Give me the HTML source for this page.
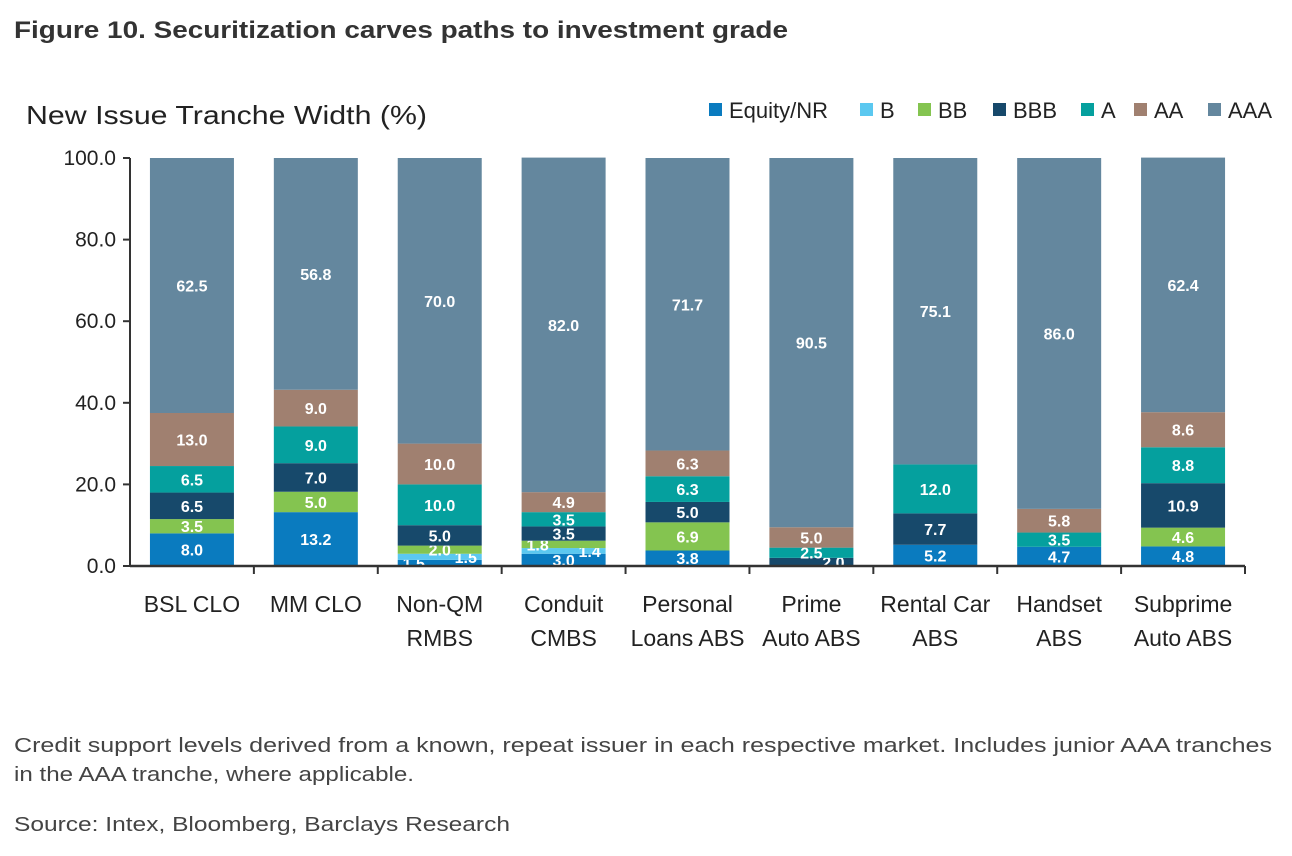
<!DOCTYPE html>
<html><head><meta charset="utf-8"><style>
body{margin:0;background:#fff;font-family:"Liberation Sans",sans-serif;}
</style></head><body>
<svg width="1292" height="851" xmlns="http://www.w3.org/2000/svg" font-family="Liberation Sans, sans-serif">
<text x="14" y="38" font-size="24" font-weight="bold" fill="#333" textLength="774" lengthAdjust="spacingAndGlyphs">Figure 10. Securitization carves paths to investment grade</text>
<text x="26" y="124" font-size="26" fill="#222" textLength="401" lengthAdjust="spacingAndGlyphs">New Issue Tranche Width (%)</text>
<g id="legend"></g>
<g id="plot"></g>
<text x="14" y="752" font-size="20" fill="#444" textLength="1258" lengthAdjust="spacingAndGlyphs">Credit support levels derived from a known, repeat issuer in each respective market. Includes junior AAA tranches</text>
<text x="14" y="781" font-size="20" fill="#444" textLength="400" lengthAdjust="spacingAndGlyphs">in the AAA tranche, where applicable.</text>
<text x="14" y="831" font-size="20" fill="#444" textLength="496" lengthAdjust="spacingAndGlyphs">Source: Intex, Bloomberg, Barclays Research</text>
</svg>
<script>
const categories=[["BSL CLO"],["MM CLO"],["Non-QM","RMBS"],["Conduit","CMBS"],["Personal","Loans ABS"],["Prime","Auto ABS"],["Rental Car","ABS"],["Handset","ABS"],["Subprime","Auto ABS"]];
const seriesNames=["Equity/NR","B","BB","BBB","A","AA","AAA"];
const equity=[8.0,13.2,1.5,3.0,3.8,0,5.2,4.7,4.8];
const bRating=[0,0,1.5,1.4,0,0,0,0,0];
const bb=[3.5,5.0,2.0,1.8,6.9,0,0,0,4.6];
const bbb=[6.5,7.0,5.0,3.5,5.0,2.0,7.7,0,10.9];
const aRating=[6.5,9.0,10.0,3.5,6.3,2.5,12.0,3.5,8.8];
const aa=[13.0,9.0,10.0,4.9,6.3,5.0,0,5.8,8.6];
const aaa=[62.5,56.8,70.0,82.0,71.7,90.5,75.1,86.0,62.4];
const yTicks=[0,20,40,60,80,100];
const colors=["#0a7bbf","#5bc8f0","#84c450","#17496b","#05a09e","#a08070","#64879e"];
const series=[equity,bRating,bb,bbb,aRating,aa,aaa];
const labelShift={"2-0":-26,"2-1":26,"3-1":26,"3-2":-26,"5-3":22};
const NS="http://www.w3.org/2000/svg";
const x0=130,x1=1245,y0=566,y1=158;
const bw=(x1-x0)/categories.length;
const ys=v=>y0-(v/100)*(y0-y1);
const xc=i=>x0+bw*(i+0.5);
function mk(tag,attrs,parent){const e=document.createElementNS(NS,tag);for(const k in attrs)e.setAttribute(k,attrs[k]);parent.appendChild(e);return e;}
const plot=document.getElementById('plot');
yTicks.forEach(t=>{
 const tx=mk('text',{x:x0-14,y:ys(t)+7,'text-anchor':'end','font-size':21,fill:'#222'},plot);
 
 
 tx.textContent=t.toFixed(1);
 const tk=mk('line',{x1:x0-7,x2:x0,y1:ys(t),y2:ys(t),stroke:'#333','stroke-width':2},plot);
 
 
});
categories.forEach((c,i)=>{
 let cum=0;
 series.forEach((s,k)=>{
  const v=s[i]; if(!v){return;}
  const r=mk('rect',{x:xc(i)-42,y:ys(cum+v),width:84,height:ys(cum)-ys(cum+v),fill:colors[k]},plot);
  
  
  const dx=labelShift[i+'-'+k]||0;
  const t=mk('text',{x:xc(i)+dx,y:(ys(cum)+ys(cum+v))/2+6,'text-anchor':'middle','font-size':16,'font-weight':'bold',fill:'#fff'},plot);
  
  
  t.textContent=v.toFixed(1);
  cum+=v;
 });
 c.forEach((ln,j)=>{
  const t=mk('text',{x:xc(i),y:612+j*34,'text-anchor':'middle','font-size':23,fill:'#222'},plot);
  
  
  t.textContent=ln;
 });
 const tk=mk('line',{x1:x0+bw*(i+1),x2:x0+bw*(i+1),y1:y0,y2:y0+8,stroke:'#333','stroke-width':2},plot);
 
 
});
const ax=mk('line',{x1:x0,x2:x1,y1:y0,y2:y0,stroke:'#333','stroke-width':2.5},plot);


const ay=mk('line',{x1:x0,x2:x0,y1:y1,y2:y0,stroke:'#333','stroke-width':2},plot);


const lg=document.getElementById('legend');
const legX=[709,860,918,993,1081,1134,1208];
seriesNames.forEach((n,k)=>{
 const r=mk('rect',{x:legX[k],y:103,width:13,height:13,fill:colors[k]},lg);
 
 
 const t=mk('text',{x:legX[k]+20,y:118,'font-size':22,fill:'#222'},lg);
 
 
 t.textContent=n;
});
</script>
</body></html>
